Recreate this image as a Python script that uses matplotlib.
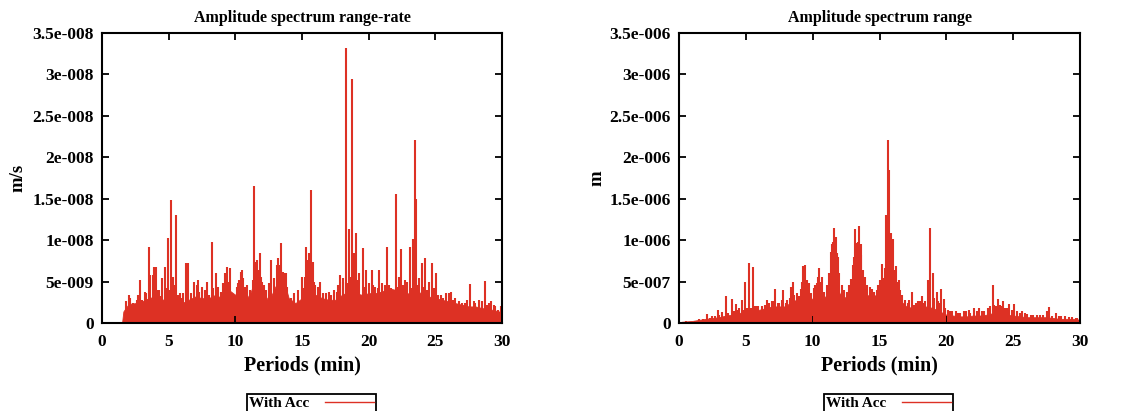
import matplotlib
matplotlib.use('Agg')
import matplotlib.pyplot as plt
from matplotlib.lines import Line2D
from matplotlib.ticker import FuncFormatter, MultipleLocator

# --- Data ---
# range-rate panel (values in 1e-9 m/s)
rr_band_period = [1.5, 1.6, 2.0, 2.5, 3.0, 3.5, 4.0, 4.5, 5.0, 5.5, 6.0, 6.5, 7.0, 7.5,
                  8.0, 8.5, 9.0, 9.5, 10.0, 10.5, 11.0, 11.5, 12.0, 12.5, 13.0, 13.5,
                  14.0, 14.5, 15.0, 15.5, 16.0, 16.5, 17.0, 17.5, 18.0, 18.5, 19.0,
                  19.5, 20.0, 20.5, 21.0, 21.5, 22.0, 22.5, 23.0, 23.5, 24.0, 24.5,
                  25.0, 25.5, 26.0, 26.5, 27.0, 27.5, 28.0, 28.5, 29.0, 29.5, 30.0]
rr_band_amp = [0.0, 1.4, 2.3, 2.4, 2.6, 3.0, 3.2, 2.8, 3.0, 2.8, 2.4, 2.8, 3.2, 3.0,
               3.0, 3.4, 3.0, 4.0, 3.4, 4.6, 3.0, 5.4, 4.0, 2.6, 4.4, 5.8,
               3.0, 2.4, 3.0, 4.0, 3.4, 3.0, 2.8, 2.8, 3.4, 3.8, 3.6,
               3.4, 3.6, 3.6, 3.8, 4.2, 4.0, 3.4, 3.6, 4.2, 3.4, 3.2,
               3.0, 2.8, 2.6, 2.4, 2.2, 2.0, 2.0, 1.8, 1.7, 1.5, 1.3]
rr_spike_period = [2.0, 2.86, 3.49, 3.81, 3.9, 4.06, 4.53, 4.73, 4.93, 5.2, 5.35, 5.53,
                   5.85, 6.27, 6.47, 7.22, 7.84, 8.24, 8.54, 9.39, 10.5, 10.7, 11.38,
                   11.65, 11.82, 12.7, 13.39, 13.57, 14.96, 15.31, 15.5, 15.68, 15.8,
                   16.38, 17.85, 18.05, 18.3, 18.55, 18.77, 18.87, 19.05, 19.54, 19.79,
                   20.21, 20.79, 21.36, 22.03, 22.4, 22.73, 23.08, 23.3, 23.48, 23.53,
                   23.97, 24.22, 24.77, 25.07, 26.14, 27.63, 28.75, 29.37]
rr_spike_amp = [3.4, 5.2, 9.2, 5.8, 6.8, 6.8, 5.4, 6.8, 10.3, 14.9, 5.6, 13.0,
                3.6, 7.2, 7.2, 5.2, 5.0, 9.8, 6.0, 6.8, 6.4, 4.4, 16.5,
                7.6, 8.5, 7.6, 9.7, 6.2, 5.5, 9.2, 8.4, 16.1, 7.4,
                5.0, 5.8, 5.4, 33.2, 11.3, 29.4, 8.4, 10.9, 9.1, 6.4,
                6.4, 6.4, 9.2, 15.6, 8.9, 5.2, 9.2, 10.1, 22.1, 15.0,
                7.2, 7.8, 7.2, 6.0, 3.7, 4.7, 5.1, 2.2]
rr_minor_period = [1.8, 2.1, 2.3, 2.4, 2.6, 2.7, 3.0, 3.2, 3.3, 3.6, 4.2, 4.3, 4.4, 4.8,
                   5.1, 5.45, 5.7, 5.95, 6.1, 6.35, 6.7, 6.9, 7.1, 7.3, 7.5, 7.7,
                   8.0, 8.35, 8.7, 8.9, 9.1, 9.25, 9.45, 9.6, 9.8, 10.1, 10.2, 10.3,
                   10.4, 10.6, 10.9, 11.1, 11.3, 11.5, 11.7, 11.9, 12.0, 12.15, 12.3,
                   12.5, 12.9, 13.1, 13.2, 13.3, 13.45, 13.65, 13.8, 13.9, 14.2, 14.4,
                   14.7, 15.1, 15.2, 15.4, 15.6, 15.9, 16.0, 16.2, 16.6, 16.8, 17.0,
                   17.2, 17.4, 17.6, 17.7, 18.1, 18.4, 18.7, 19.2, 19.3, 19.7, 20.0,
                   20.3, 20.5, 20.7, 21.0, 21.2, 21.5, 21.7, 21.9, 22.2, 22.3, 22.6,
                   22.9, 23.2, 23.7, 23.8, 24.1, 24.4, 24.5, 24.9, 25.2, 25.4, 25.6,
                   25.8, 26.0, 26.3, 26.5, 26.8, 27.0, 27.2, 27.4, 27.9, 28.0, 28.3,
                   28.5, 28.9, 29.0, 29.2, 29.5, 29.7, 29.9]
rr_minor_amp = [2.6, 3.0, 2.4, 2.2, 2.8, 3.4, 2.8, 3.8, 3.6, 5.8, 4.0, 4.0, 3.2, 4.2,
                4.0, 4.6, 3.4, 3.0, 3.6, 4.4, 3.6, 5.0, 4.6, 3.8, 4.4, 4.0,
                3.4, 4.2, 4.4, 3.8, 4.8, 6.0, 5.0, 6.6, 3.4, 4.4, 4.8, 5.2,
                6.2, 5.4, 4.6, 4.0, 5.2, 7.4, 6.4, 5.6, 5.0, 4.6, 4.0,
                4.8, 5.4, 7.0, 7.8, 7.0, 6.4, 6.0, 6.0, 4.4, 3.0, 3.6,
                4.0, 4.2, 5.6, 7.6, 6.2, 5.0, 4.6, 4.4, 3.6, 3.6, 3.8,
                3.4, 4.0, 3.8, 4.6, 5.0, 4.8, 5.6, 5.2, 6.0, 4.4, 4.8,
                4.6, 4.4, 4.2, 4.8, 4.6, 4.6, 4.2, 4.0, 4.4, 5.6, 4.6,
                5.0, 4.2, 4.6, 5.4, 4.4, 4.0, 5.0, 4.2, 3.4, 3.4, 3.0,
                3.6, 3.6, 2.8, 3.0, 2.6, 2.4, 2.4, 2.8, 2.6, 2.4, 2.8,
                2.6, 2.2, 2.4, 2.6, 2.0, 1.6, 2.0]

# range panel (values in 1e-7 m)
r_band_period = [0.2, 1.0, 2.0, 2.5, 3.0, 3.5, 4.0, 4.5, 5.0, 5.5, 6.0, 6.5, 7.0, 7.5,
                 8.0, 8.5, 9.0, 9.5, 10.0, 10.5, 11.0, 11.5, 12.0, 12.5, 13.0, 13.5,
                 14.0, 14.5, 15.0, 15.5, 16.0, 16.5, 17.0, 17.5, 18.0, 18.5, 19.0,
                 19.5, 20.0, 20.5, 21.0, 21.5, 22.0, 22.5, 23.0, 23.5, 24.0, 24.5,
                 25.0, 25.5, 26.0, 26.5, 27.0, 27.5, 28.0, 28.5, 29.0, 29.5, 30.0]
r_band_amp = [0.15, 0.25, 0.5, 0.6, 0.7, 0.9, 1.0, 1.2, 1.4, 1.5, 1.6, 1.8, 2.0, 2.0,
              2.0, 2.8, 2.6, 3.8, 2.8, 4.0, 3.0, 7.4, 3.6, 3.0, 4.8, 6.8,
              3.4, 3.2, 3.6, 5.4, 4.4, 2.8, 2.0, 1.8, 1.7, 2.0, 1.8,
              1.4, 1.0, 0.9, 0.8, 0.8, 0.9, 0.9, 1.0, 1.2, 1.1, 1.0,
              0.9, 0.8, 0.7, 0.7, 0.7, 0.7, 0.6, 0.5, 0.5, 0.5, 0.4]
r_spike_period = [2.07, 2.89, 3.49, 3.94, 4.26, 4.69, 4.94, 5.24, 5.54, 5.94, 6.56,
                  6.93, 7.21, 7.81, 8.35, 8.55, 9.13, 9.43, 10.3, 10.5, 11.3, 11.45,
                  11.6, 11.75, 11.9, 12.54, 12.87, 13.19, 13.3, 13.44, 13.59, 13.79,
                  14.41, 14.79, 15.04, 15.16, 15.49, 15.66, 15.74, 15.84, 15.99,
                  16.21, 16.46, 17.41, 17.91, 18.15, 18.6, 18.8, 19.03, 19.28, 19.58,
                  19.85, 20.7, 22.1, 22.47, 23.14, 23.47, 23.89, 24.26, 24.71, 25.09,
                  25.64, 27.7, 28.2]
r_spike_amp = [1.1, 1.6, 3.2, 2.9, 2.3, 2.8, 5.0, 7.2, 6.7, 2.1, 2.8,
               2.7, 4.1, 4.0, 4.3, 4.9, 4.1, 7.0, 4.8, 6.6, 5.2, 9.5,
               11.5, 10.4, 8.0, 3.7, 5.3, 11.3, 9.6, 11.7, 9.5, 6.4,
               4.1, 4.0, 5.2, 7.1, 13.0, 22.1, 18.5, 10.9, 10.1,
               6.9, 5.2, 3.8, 2.6, 3.3, 5.2, 11.5, 6.0, 3.8, 4.1,
               2.9, 1.4, 1.8, 1.8, 1.8, 4.6, 2.9, 2.6, 2.3, 2.3,
               1.4, 1.9, 1.2]
r_minor_period = [0.5, 1.2, 1.5, 1.8, 2.3, 2.5, 2.7, 3.0, 3.2, 3.7, 4.1, 4.4, 4.5,
                  4.8, 5.1, 5.4, 5.7, 5.8, 6.2, 6.4, 6.7, 7.0, 7.1, 7.4, 7.5, 7.7,
                  8.0, 8.1, 8.3, 8.6, 8.8, 8.95, 9.2, 9.3, 9.35, 9.55, 9.7, 9.9,
                  10.1, 10.2, 10.4, 10.6, 10.7, 10.85, 11.1, 11.2, 11.35, 11.55,
                  11.65, 11.7, 11.8, 12.0, 12.2, 12.35, 12.7, 13.0, 13.1, 13.25,
                  13.4, 13.5, 13.65, 13.9, 14.1, 14.3, 14.6, 14.9, 15.3, 15.4, 15.55,
                  15.75, 15.9, 16.05, 16.3, 16.55, 16.7, 16.9, 17.1, 17.2, 17.6,
                  17.7, 18.0, 18.3, 18.4, 18.7, 19.1, 19.4, 19.5, 19.9, 20.1, 20.3,
                  20.4, 20.9, 21.0, 21.3, 21.5, 21.7, 21.8, 22.3, 22.7, 22.8, 23.3,
                  23.6, 23.7, 24.0, 24.1, 24.4, 24.5, 24.9, 25.3, 25.5, 25.9, 26.0,
                  26.3, 26.5, 26.8, 27.0, 27.2, 27.5, 27.9, 28.4, 28.6, 28.9, 29.2,
                  29.4, 29.7, 29.8]
r_minor_amp = [0.2, 0.3, 0.5, 0.5, 0.6, 0.8, 0.8, 1.0, 1.3, 1.2, 1.4, 1.6, 1.8,
               1.6, 1.8, 1.8, 2.0, 2.0, 2.0, 2.2, 2.4, 2.6, 2.6, 2.4, 2.4, 2.8,
               2.4, 2.8, 3.0, 3.4, 3.6, 3.2, 5.0, 6.9, 6.8, 5.2, 4.8, 3.6,
               4.2, 4.6, 5.6, 5.0, 5.6, 3.8, 4.6, 6.0, 8.6, 9.8,
               10.0, 9.0, 8.4, 6.0, 4.6, 4.0, 4.6, 7.0, 8.0, 9.6,
               9.8, 9.2, 8.2, 5.6, 4.6, 4.4, 3.8, 4.6, 5.4, 6.6, 8.0,
               9.0, 8.8, 6.4, 5.0, 4.0, 3.4, 2.8, 2.4, 2.8, 2.2,
               2.4, 2.6, 2.4, 2.6, 4.0, 3.0, 2.6, 2.4, 1.8, 1.6, 1.4,
               1.4, 1.2, 1.2, 1.4, 1.4, 1.6, 1.2, 1.4, 1.4, 1.4, 2.0,
               2.2, 2.0, 2.2, 2.0, 1.8, 1.8, 1.6, 1.4, 1.2, 1.2, 1.1,
               1.0, 1.0, 1.0, 1.0, 1.0, 1.4, 0.9, 0.8, 0.8, 0.8, 0.7,
               0.7, 0.6, 0.6]

red = '#dd3124'
serif = ['Liberation Serif', 'DejaVu Serif']


def gnu_fmt(v, pos):
    # gnuplot-on-windows style: 3.5e-008
    if abs(v) < 1e-20:
        return '0'
    s = '%g' % v
    mant, exp = s.split('e')
    sign = exp[0]
    digits = exp[1:].lstrip('0')
    return '%se%s%03d' % (mant, sign if sign == '-' else '+', int(digits))


def panel(ax, band_p, band_a, sp_p, sp_a, mi_p, mi_a, scale, ymax, step, title, ylabel, ylabpad):
    ax.fill_between(band_p, 0, [a * scale for a in band_a], color=red, lw=0.6)
    ax.vlines(mi_p, 0, [a * scale for a in mi_a], color=red, lw=1.5)
    ax.vlines(sp_p, 0, [a * scale for a in sp_a], color=red, lw=1.5)
    ax.set_xlim(0, 30)
    ax.set_ylim(0, ymax)
    ax.xaxis.set_major_locator(MultipleLocator(5))
    ax.yaxis.set_major_locator(MultipleLocator(step))
    ax.yaxis.set_major_formatter(FuncFormatter(gnu_fmt))
    ax.tick_params(direction='in', length=5, width=1.3, top=True, right=True, pad=6,
                   labelsize=12.5)
    ax.tick_params(axis='x', pad=8)
    for lab in ax.get_xticklabels() + ax.get_yticklabels():
        lab.set_fontfamily(serif)
        lab.set_fontweight('bold')
    for sp in ax.spines.values():
        sp.set_linewidth(1.5)
    ax.set_title(title, fontsize=11.5, fontweight='bold', family=serif, pad=8)
    ax.set_xlabel('Periods (min)', fontsize=14.5, fontweight='bold', family=serif, labelpad=4)
    ax.set_ylabel(ylabel, fontsize=13.5, fontweight='bold', family=serif, labelpad=ylabpad)


fig = plt.figure(figsize=(11.4, 4.11), dpi=100)
ax1 = fig.add_axes([0.0895, 0.2141, 0.3509, 0.7056])
ax2 = fig.add_axes([0.5956, 0.2141, 0.3518, 0.7056])

panel(ax1, rr_band_period, rr_band_amp, rr_spike_period, rr_spike_amp,
      rr_minor_period, rr_minor_amp, 1e-9, 3.5e-8, 5e-9,
      'Amplitude spectrum range-rate', 'm/s', 4)
panel(ax2, r_band_period, r_band_amp, r_spike_period, r_spike_amp,
      r_minor_period, r_minor_amp, 1e-7, 3.5e-6, 5e-7,
      'Amplitude spectrum range', 'm', 3)

handle = [Line2D([0], [0], color=red, lw=1.0)]
for cx in [311.5 / 1140, 888.5 / 1140]:
    leg = fig.legend(handle, ['With Acc'], loc='upper center',
                     bbox_to_anchor=(cx, 1 - 394 / 411), borderaxespad=0,
                     markerfirst=False, fancybox=False, framealpha=1,
                     edgecolor='black', handlelength=3.2, borderpad=0.15,
                     handletextpad=1.0,
                     prop={'family': serif, 'weight': 'bold', 'size': 11})
    leg.get_frame().set_linewidth(1.3)

fig.savefig('out.png', dpi=100)
